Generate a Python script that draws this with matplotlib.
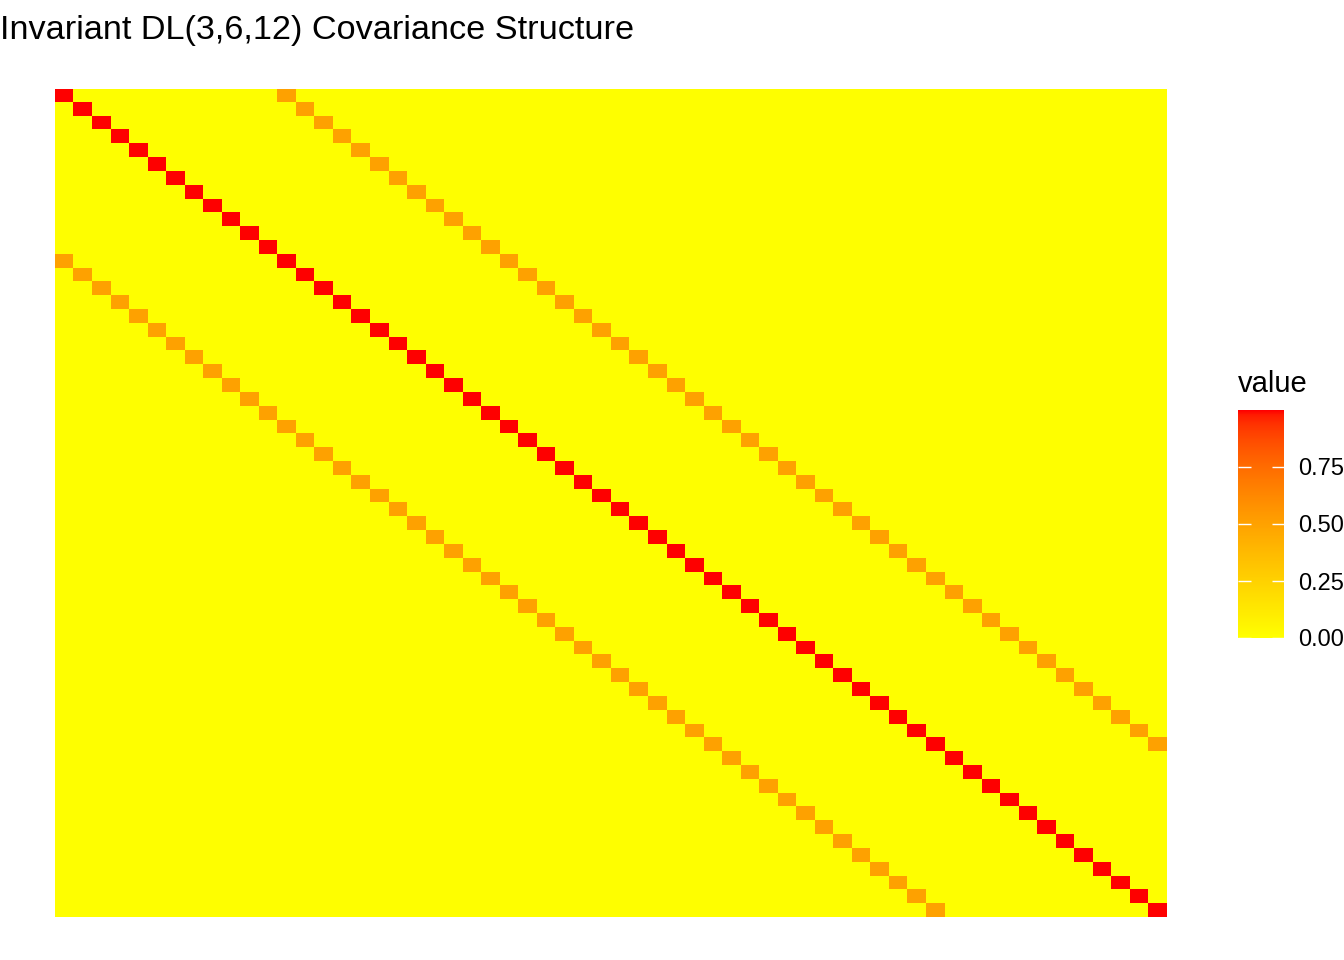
import numpy as np
import matplotlib
matplotlib.use("Agg")
import matplotlib.pyplot as plt
from matplotlib.colors import ListedColormap

# matrix layout
n_dim = 60          # 60 x 60 covariance matrix
diag_value = 1.0    # main diagonal
lag = 12            # seasonal lag of the off-diagonal bands
lag_value = 0.5     # value on the lag bands
legend_ticks = [0.0, 0.25, 0.50, 0.75]
legend_labels = ["0.00", "0.25", "0.50", "0.75"]

cov = diag_value * np.eye(n_dim) + lag_value * (np.eye(n_dim, k=lag) + np.eye(n_dim, k=-lag))


def srgb_to_lab(rgb):
    rgb = np.asarray(rgb, dtype=float)
    lin = np.where(rgb <= 0.04045, rgb / 12.92, ((rgb + 0.055) / 1.055) ** 2.4)
    m = np.array([[0.4124, 0.3576, 0.1805],
                  [0.2126, 0.7152, 0.0722],
                  [0.0193, 0.1192, 0.9505]])
    xyz = lin @ m.T / np.array([0.95047, 1.0, 1.08883])
    f = np.where(xyz > 0.008856, np.cbrt(xyz), 7.787 * xyz + 16 / 116)
    return np.stack([116 * f[..., 1] - 16,
                     500 * (f[..., 0] - f[..., 1]),
                     200 * (f[..., 1] - f[..., 2])], axis=-1)


def lab_to_srgb(lab):
    L, a, b = lab[..., 0], lab[..., 1], lab[..., 2]
    fy = (L + 16) / 116
    fx = fy + a / 500
    fz = fy - b / 200
    f = np.stack([fx, fy, fz], axis=-1)
    xyz = np.where(f ** 3 > 0.008856, f ** 3, (f - 16 / 116) / 7.787)
    xyz = xyz * np.array([0.95047, 1.0, 1.08883])
    m_inv = np.array([[3.2406, -1.5372, -0.4986],
                      [-0.9689, 1.8758, 0.0415],
                      [0.0557, -0.2040, 1.0570]])
    lin = xyz @ m_inv.T
    lin = np.clip(lin, 0, 1)
    rgb = np.where(lin <= 0.0031308, 12.92 * lin, 1.055 * lin ** (1 / 2.4) - 0.055)
    return np.clip(rgb, 0, 1)


# yellow -> red gradient interpolated in Lab space (like ggplot's scale_fill_gradient)
low = srgb_to_lab([1.0, 1.0, 0.0])
high = srgb_to_lab([1.0, 0.0, 0.0])
t = np.linspace(0, 1, 256)[:, None]
cmap = ListedColormap(lab_to_srgb(low + t * (high - low)))

fig = plt.figure(figsize=(13.44, 9.6), dpi=100)
W, H = 1344, 960

ax = fig.add_axes([55 / W, 1 - 917.5 / H, 1112 / W, 828.5 / H])
im = ax.imshow(cov, cmap=cmap, vmin=0, vmax=diag_value, aspect="auto",
               interpolation="nearest")
ax.axis("off")

fig.text(0, 1 - 31 / H, "Invariant DL(3,6,12) Covariance Structure",
         fontsize=24.7, family="Liberation Sans", va="center", ha="left")

cax = fig.add_axes([1238 / W, 1 - 638 / H, 46 / W, 228 / H])
cb = fig.colorbar(im, cax=cax)
cb.outline.set_visible(False)
cb.set_ticks(legend_ticks)
cb.set_ticklabels(legend_labels)
cax.tick_params(axis="y", direction="in", length=9, width=1, color="white",
                left=True, right=True, labelleft=False, labelright=True,
                labelcolor="black", labelsize=17, pad=10)
for lbl in cax.get_yticklabels():
    lbl.set_family("Liberation Sans")
fig.text(1238 / W, 1 - 384 / H, "value", fontsize=21,
         family="Liberation Sans", va="center", ha="left")

fig.savefig("out.png", dpi=100)
